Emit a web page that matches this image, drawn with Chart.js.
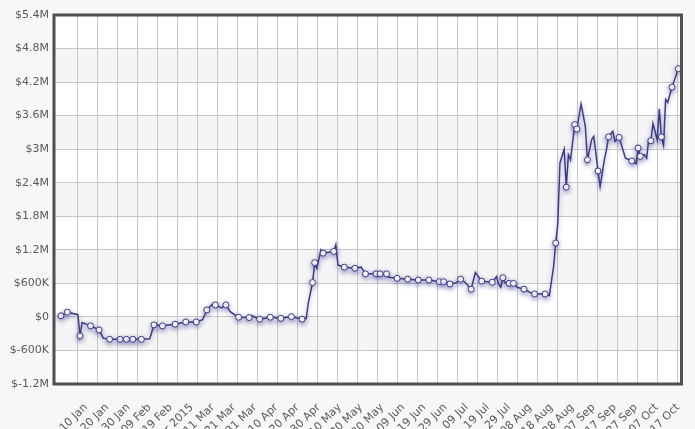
<!DOCTYPE html>
<html>
<head>
<meta charset="utf-8">
<title>Balance 2015</title>
<script src="https://cdn.jsdelivr.net/npm/chart.js@4/dist/chart.umd.min.js"></script>
<style>
  body { margin: 0; background: #f7f7f7; }
  canvas { display: block; }
</style>
</head>
<body>
<canvas id="chart" width="695" height="429"></canvas>
<script>
// day of year (0 = 1 Jan 2015)
const dayOfYear = [
  0, 3, 8, 9, 10, 14, 18, 20, 23, 28, 31, 34, 38, 42, 44, 48, 54, 59, 64, 67,
  69, 72, 73, 76, 78, 80, 84, 89, 90, 94, 99, 104, 109, 114, 116, 117, 119, 120, 121, 123,
  124, 129, 130, 131, 134, 139, 142, 144, 149, 151, 154, 155, 159, 164, 169, 174, 179, 181, 184, 187,
  189, 191, 194, 196, 199, 204, 206, 207, 208, 209, 210, 212, 214, 216, 219, 222, 224, 229, 231, 233,
  234, 235, 236, 238, 239, 240, 241, 243, 244, 246, 248, 249, 251, 252, 253, 254, 255, 257, 258, 259,
  261, 262, 264, 267, 270, 272, 273, 274, 276, 277, 278, 279, 280, 282, 283, 284, 285, 286, 287, 289,
  292
]
// balance in $K
const balanceK = [
  20, 85, 40, -340, -100, -160, -233, -380, -400, -400, -400, -400, -400, -390, -143, -160, -130, -90, -90, -50,
  125, 245, 215, 160, 215, 95, -5, -12, 25, -40, -5, -25, 5, -40, -30, 250, 615, 970, 870, 1200,
  1140, 1170, 1290, 930, 890, 870, 890, 770, 770, 770, 770, 710, 690, 675, 660, 660, 630, 630, 590, 610,
  675, 625, 496, 795, 640, 620, 720, 590, 530, 700, 610, 600, 600, 525, 497, 435, 410, 410, 385, 900,
  1320, 1680, 2750, 3000, 2320, 2900, 2810, 3440, 3360, 3810, 3410, 2810, 3170, 3230, 2930, 2610, 2330, 2810, 2990, 3220,
  3320, 3140, 3210, 2840, 2790, 2740, 3020, 2870, 2900, 2840, 3170, 3150, 3460, 3170, 3720, 3220, 3070, 3890, 3840, 4110,
  4440
]
// 1 = point drawn with a marker
const marked = [
  1, 1, 0, 1, 0, 1, 1, 0, 1, 1, 1, 1, 1, 0, 1, 1, 1, 1, 1, 0,
  1, 0, 1, 0, 1, 0, 1, 1, 0, 1, 1, 1, 1, 1, 0, 0, 1, 1, 0, 0,
  1, 1, 0, 0, 1, 1, 0, 1, 1, 1, 1, 0, 1, 1, 1, 1, 1, 1, 1, 0,
  1, 0, 1, 0, 1, 1, 0, 0, 0, 1, 0, 1, 1, 0, 1, 0, 1, 1, 0, 0,
  1, 0, 0, 0, 1, 0, 0, 1, 1, 0, 0, 1, 0, 0, 0, 1, 0, 0, 0, 1,
  0, 0, 1, 0, 1, 0, 1, 1, 0, 0, 0, 1, 0, 0, 0, 1, 0, 0, 0, 1,
  1
]

const tickDays = [9, 19, 29, 39, 49, 59, 69, 79, 89, 99, 109, 119, 129, 139, 149,
  159, 169, 179, 189, 199, 209, 219, 229, 239, 249, 259, 269, 279, 289]
const tickLabels = ['10 Jan', '20 Jan', '30 Jan', '09 Feb', '19 Feb', 'Mar 2015', '11 Mar', '21 Mar', '31 Mar',
  '10 Apr', '20 Apr', '30 Apr', '10 May', '20 May', '30 May', '09 Jun', '19 Jun', '29 Jun', '09 Jul',
  '19 Jul', '29 Jul', '08 Aug', '18 Aug', '28 Aug', '07 Sep', '17 Sep', '27 Sep', '07 Oct', '17 Oct']

const X_MIN = -3.3
const X_MAX = 293.5
const LINE = '#3b3b86'
const FONT = { family: 'DejaVu Sans', size: 11 }

// vertical grid runs on its own spacing, not on the label ticks
const gridDays = []
for (let k = 0; k <= 30; k++) gridDays.push(7.72 + k * 9.461)

const fmtMoney = (v) => {
  if (v === 0) return '$0'
  if (Math.abs(v) >= 1e6) return '$' + (Math.round(v / 1e5) / 10) + 'M'
  return '$' + Math.round(v / 1000) + 'K'
}

const bands = {
  id: 'bands',
  beforeDraw(chart) {
    const { ctx, chartArea: a, scales: { y } } = chart
    ctx.save()
    ctx.fillStyle = '#ffffff'
    ctx.fillRect(a.left, a.top, a.right - a.left, a.bottom - a.top)
    ctx.fillStyle = '#f5f5f5'
    for (let v = 4.8e6; v > -1.2e6; v -= 1.2e6) {
      const y1 = y.getPixelForValue(v)
      const y2 = y.getPixelForValue(v - 6e5)
      ctx.fillRect(a.left, y1, a.right - a.left, y2 - y1)
    }
    ctx.restore()
  },
  afterDraw(chart) {
    const { ctx, chartArea: a } = chart
    ctx.save()
    ctx.strokeStyle = '#4f4f4f'
    ctx.lineWidth = 3
    ctx.strokeRect(a.left, a.top, a.right - a.left, a.bottom - a.top)
    ctx.restore()
  }
}

const glow = {
  id: 'glow',
  beforeDatasetDraw(chart) {
    const ctx = chart.ctx
    ctx.save()
    ctx.shadowColor = 'rgba(60,60,150,0.45)'
    ctx.shadowBlur = 5
    ctx.shadowOffsetY = 2
  },
  afterDatasetDraw(chart) {
    chart.ctx.restore()
  }
}

const points = dayOfYear.map((d, i) => ({ x: d, y: balanceK[i] * 1000 }))

new Chart(document.getElementById('chart'), {
  type: 'line',
  data: {
    datasets: [{
      data: points,
      borderColor: LINE,
      borderWidth: 1.5,
      tension: 0,
      fill: false,
      pointRadius: marked.map(m => m ? 3 : 0),
      pointBackgroundColor: '#ffffff',
      pointBorderColor: LINE,
      pointBorderWidth: 1
    }]
  },
  options: {
    responsive: false,
    animation: false,
    devicePixelRatio: 1,
    layout: { padding: { top: 15, right: 13.5, left: 0, bottom: 0 } },
    plugins: { legend: { display: false }, tooltip: { enabled: false } },
    scales: {
      xg: {
        type: 'linear', position: 'bottom', weight: 0,
        min: X_MIN, max: X_MAX,
        afterBuildTicks: s => { s.ticks = gridDays.map(v => ({ value: v })) },
        ticks: { display: false },
        grid: { color: '#c6c6c6', drawTicks: false },
        border: { display: false },
        afterFit: s => { s.height = 0 }
      },
      x: {
        type: 'linear', position: 'bottom', weight: 1,
        min: X_MIN, max: X_MAX,
        afterBuildTicks: s => { s.ticks = tickDays.map(v => ({ value: v })) },
        ticks: {
          callback: v => tickLabels[tickDays.indexOf(v)],
          autoSkip: false, maxRotation: 45, minRotation: 45,
          color: '#595959', font: FONT, padding: 9, labelOffset: 6
        },
        grid: { display: false },
        border: { display: false },
        afterFit: s => { s.height = 45 }
      },
      y: {
        min: -1.2e6, max: 5.4e6,
        ticks: { stepSize: 6e5, callback: fmtMoney, color: '#595959', font: FONT, padding: 5 },
        grid: { color: '#c6c6c6', drawTicks: false },
        border: { display: false },
        afterFit: s => { s.width = 54 }
      }
    }
  },
  plugins: [bands, glow]
})
</script>
</body>
</html>
